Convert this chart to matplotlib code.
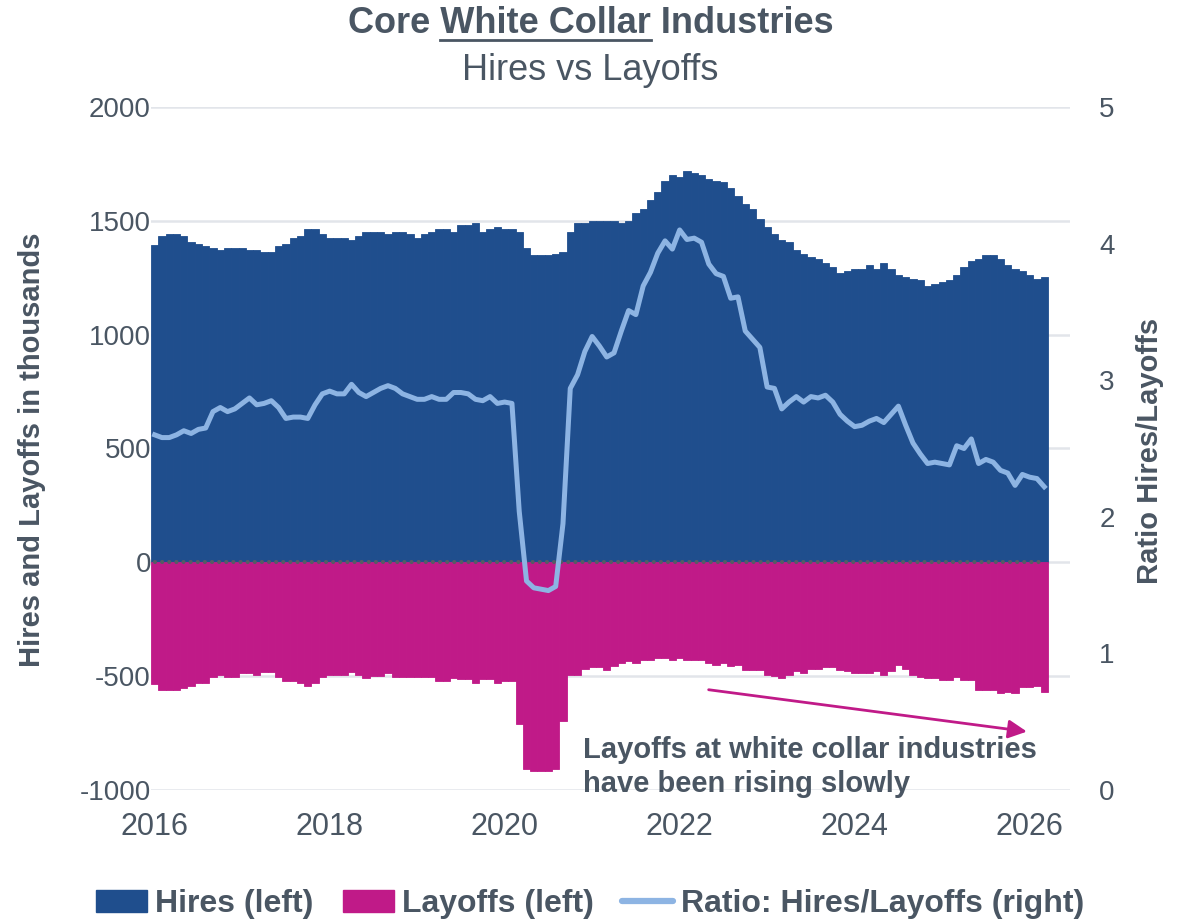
import numpy as np
import matplotlib.pyplot as plt
from matplotlib.patches import Patch
from matplotlib.lines import Line2D

plt.rcParams['font.family'] = ['Liberation Sans', 'DejaVu Sans']

# monthly data, Jan 2016 onwards (thousands / ratio)
start_year = 2016
hires = [1395, 1432, 1441, 1441, 1432, 1405, 1397, 1388, 1379, 1370,
         1379, 1379, 1379, 1370, 1370, 1362, 1362, 1388, 1397, 1423,
         1432, 1462, 1462, 1441, 1423, 1423, 1423, 1414, 1432, 1449,
         1453, 1449, 1441, 1449, 1449, 1441, 1423, 1441, 1449, 1462,
         1462, 1453, 1480, 1480, 1489, 1453, 1462, 1471, 1462, 1462,
         1453, 1379, 1348, 1348, 1348, 1353, 1362, 1449, 1489, 1489,
         1498, 1498, 1498, 1498, 1489, 1498, 1533, 1550, 1590, 1625,
         1673, 1700, 1691, 1717, 1708, 1700, 1682, 1673, 1669, 1643,
         1607, 1572, 1550, 1506, 1471, 1441, 1414, 1405, 1370, 1353,
         1340, 1331, 1313, 1296, 1269, 1278, 1287, 1287, 1304, 1287,
         1313, 1287, 1261, 1252, 1243, 1239, 1212, 1221, 1230, 1239,
         1261, 1296, 1322, 1331, 1348, 1348, 1331, 1304, 1287, 1278,
         1261, 1243, 1252]
layoffs = [-536, -562, -562, -562, -553, -545, -531, -531, -505, -496,
           -505, -505, -487, -487, -496, -483, -483, -505, -523, -523,
           -531, -545, -531, -505, -496, -496, -496, -483, -496, -509,
           -501, -501, -487, -505, -505, -505, -505, -505, -505, -523,
           -523, -509, -514, -514, -531, -514, -514, -531, -523, -523,
           -711, -909, -918, -918, -918, -909, -698, -496, -496, -470,
           -461, -461, -474, -457, -444, -435, -444, -430, -430, -422,
           -422, -430, -422, -430, -430, -430, -444, -452, -444, -457,
           -452, -474, -474, -474, -496, -501, -509, -496, -479, -487,
           -470, -470, -461, -461, -474, -479, -487, -487, -487, -479,
           -496, -479, -452, -470, -496, -505, -509, -509, -518, -518,
           -505, -518, -518, -562, -562, -562, -575, -571, -575, -549,
           -549, -545, -571]
ratio = [2.60, 2.58, 2.58, 2.60, 2.63, 2.61, 2.64, 2.65, 2.77, 2.80,
         2.77, 2.79, 2.83, 2.87, 2.82, 2.83, 2.85, 2.80, 2.72, 2.73,
         2.73, 2.72, 2.82, 2.90, 2.92, 2.90, 2.90, 2.97, 2.91, 2.88,
         2.91, 2.94, 2.96, 2.94, 2.90, 2.88, 2.86, 2.86, 2.88, 2.86,
         2.86, 2.91, 2.91, 2.90, 2.86, 2.85, 2.88, 2.83, 2.84, 2.83,
         2.04, 1.53, 1.48, 1.47, 1.46, 1.49, 1.95, 2.94, 3.04, 3.21,
         3.32, 3.25, 3.17, 3.20, 3.36, 3.51, 3.48, 3.69, 3.79, 3.93,
         4.02, 3.96, 4.10, 4.03, 4.04, 4.01, 3.85, 3.78, 3.76, 3.60,
         3.61, 3.36, 3.30, 3.24, 2.95, 2.94, 2.79, 2.84, 2.88, 2.84,
         2.88, 2.87, 2.89, 2.84, 2.75, 2.70, 2.66, 2.67, 2.70, 2.72,
         2.69, 2.75, 2.81, 2.67, 2.54, 2.46, 2.39, 2.40, 2.39, 2.38,
         2.52, 2.50, 2.57, 2.39, 2.42, 2.40, 2.34, 2.32, 2.23, 2.31,
         2.29, 2.28, 2.22]
year_ticks = [2016, 2018, 2020, 2022, 2024, 2026]
left_ticks = [-1000, -500, 0, 500, 1000, 1500, 2000]
right_ticks = [0, 1, 2, 3, 4, 5]

BLUE = '#1f4e8d'
MAGENTA = '#c01a88'
LIGHT = '#8db4e3'
TEXT = '#4a5663'
GRID = '#e2e5ea'

x = start_year + np.arange(len(hires)) / 12

fig = plt.figure(figsize=(11.81, 9.24), dpi=100)
ax = fig.add_axes([151 / 1181, 1 - 790 / 924, 919 / 1181, 683 / 924])

ax.bar(x, hires, width=1 / 12, color=BLUE, edgecolor=BLUE, linewidth=0.6, zorder=2)
ax.bar(x, layoffs, width=1 / 12, color=MAGENTA, edgecolor=MAGENTA, linewidth=0.6, zorder=2)
# dotted zero line
ax.plot([x[0], x[-1]], [0, 0], color='#555c64', linewidth=3,
        linestyle=(0, (0.01, 1.7)), dash_capstyle='round', zorder=3)

ax.set_xlim(2016 - 1 / 24, 2016 - 1 / 24 + 919 / 87.5)
ax.set_ylim(-1000, 2000)
ax.set_yticks(left_ticks)
ax.set_yticklabels([str(v) for v in left_ticks])
ax.set_xticks(year_ticks)
ax.set_xticklabels([str(v) for v in year_ticks])
ax.yaxis.grid(True, color=GRID, linewidth=1.8)
ax.set_axisbelow(True)
ax.tick_params(axis='both', length=0, colors=TEXT)
ax.tick_params(axis='y', labelsize=20, pad=0)
ax.tick_params(axis='x', labelsize=22, pad=16)
for s in ax.spines.values():
    s.set_visible(False)

ax2 = ax.twinx()
ax2.plot(x, ratio, color=LIGHT, linewidth=3.6, solid_joinstyle='round', zorder=4)
ax2.set_ylim(0, 5)
ax2.set_yticks(right_ticks)
ax2.set_yticklabels([str(v) for v in right_ticks])
ax2.tick_params(axis='y', length=0, colors=TEXT, labelsize=20, pad=21)
for s in ax2.spines.values():
    s.set_visible(False)

# annotation arrow + comment
ax.annotate('', xy=(2026.0, -745), xytext=(2022.3, -558),
            arrowprops=dict(arrowstyle='-|>', color=MAGENTA, lw=2, mutation_scale=28))
ax.text(2020.9, -900, 'Layoffs at white collar industries\nhave been rising slowly',
        ha='left', va='center', fontsize=21, fontweight='bold', color=TEXT,
        linespacing=1.25, zorder=5)

# axis titles
fig.text(32 / 1181, 1 - 450 / 924, 'Hires and Layoffs in thousands', rotation=90,
         ha='center', va='center', fontsize=21, fontweight='bold', color=TEXT)
fig.text(1150 / 1181, 1 - 451 / 924, 'Ratio Hires/Layoffs', rotation=90,
         ha='center', va='center', fontsize=21, fontweight='bold', color=TEXT)

# title with underlined part
title = 'Core White Collar Industries'
ty = 1 - 33 / 924
t = fig.text(0.5, ty, title, ha='center', va='baseline', fontsize=26,
             fontweight='bold', color=TEXT)
fig.text(0.5, 1 - 80 / 924, 'Hires vs Layoffs', ha='center', va='baseline',
         fontsize=26, color=TEXT)

r = fig.canvas.get_renderer()


def text_width(s):
    tmp = fig.text(0, 0, s, fontsize=26, fontweight='bold')
    w = tmp.get_window_extent(r).width
    tmp.remove()
    return w


bb = t.get_window_extent(r)
u1 = bb.x0 + text_width('Core White Collar')
u0 = u1 - text_width('White Collar')
W = fig.bbox.width
uy = 1 - 40 / 924
fig.add_artist(Line2D([u0 / W, u1 / W], [uy, uy], transform=fig.transFigure,
                      color=TEXT, linewidth=2))

handles = [Patch(color=BLUE), Patch(color=MAGENTA),
           Line2D([], [], color=LIGHT, linewidth=4.5, solid_capstyle='round')]
labels = ['Hires (left)', 'Layoffs (left)', 'Ratio: Hires/Layoffs (right)']
fig.legend(handles, labels, loc='center', bbox_to_anchor=(0.5, 1 - 904 / 924),
           ncol=3, frameon=False, prop={'size': 23, 'weight': 'bold'},
           labelcolor=TEXT, handlelength=1.6, handleheight=0.7,
           handletextpad=0.25, columnspacing=0.9)

fig.savefig('out.png', dpi=100)
